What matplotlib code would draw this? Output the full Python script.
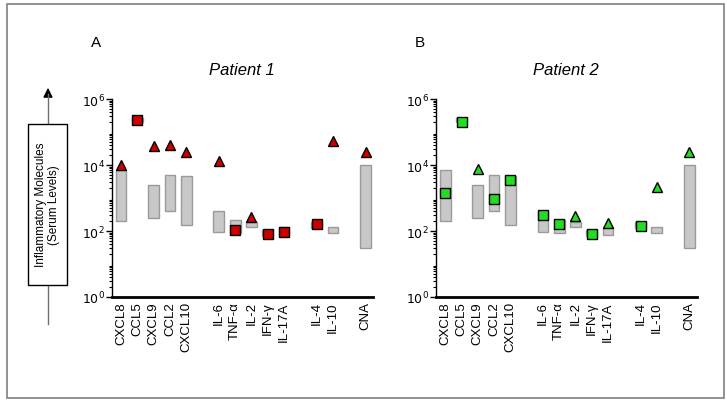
import matplotlib
matplotlib.use('Agg')
import matplotlib.pyplot as plt
from matplotlib.patches import Rectangle, FancyArrowPatch
from matplotlib.lines import Line2D
import numpy as np

plt.rcParams['font.family'] = ['Liberation Sans', 'DejaVu Sans']

# categories and their slots on the x axis (gaps between groups)
labels = ['CXCL8', 'CCL5', 'CXCL9', 'CCL2', 'CXCL10',
          'IL-6', 'TNF-α', 'IL-2', 'IFN-γ', 'IL-17A',
          'IL-4', 'IL-10', 'CNA']
xpos = [0, 1, 2, 3, 4, 6, 7, 8, 9, 10, 12, 13, 15]

# normal ranges (grey boxes)
range_low = [200, 2.0e5, 250, 400, 150, 95, 85, 130, 72, 77, 125, 85, 30]
range_high = [7000, 2.6e5, 2500, 5000, 4500, 400, 220, 190, 105, 135, 190, 135, 10000]

# patient values, marker shape ('^' above range, 's' within)
p1_vals = [10000, 2.3e5, 37000, 40000, 25000, 13500, 110, 260, 83, 95, 165, 52000, 24000]
p1_mark = ['^', 's', '^', '^', '^', '^', 's', '^', 's', 's', 's', '^', '^']
p2_vals = [1400, 2.0e5, 7500, 930, 3600, 310, 165, 280, 80, 180, 140, 2200, 25000]
p2_mark = ['s', 's', '^', 's', 's', 's', 's', '^', 's', '^', 's', '^', '^']

fig = plt.figure(figsize=(7.27, 4.02), dpi=100)

# outer frame
fig.patches.append(Rectangle((7 / 727, 3 / 402), 717 / 727, 394 / 402, transform=fig.transFigure,
                             fill=False, edgecolor='#808080', lw=1.2))


def draw_panel(ax, vals, marks, color, title, letter):
    for x, lo, hi in zip(xpos, range_low, range_high):
        ax.add_patch(Rectangle((x - 0.33, lo), 0.66, hi - lo, facecolor='#c8c8c8',
                               edgecolor='#9a9a9a', lw=1, zorder=2))
    for x, v, m in zip(xpos, vals, marks):
        ms = 7.5 if m == '^' else 6.5
        ax.plot(x, v, marker=m, ms=ms, color=color, mec='black', mew=1, zorder=3)
    ax.set_yscale('log')
    ax.set_ylim(1, 1e6)
    ax.set_xlim(-0.57, 15.45)
    ax.set_yticks([1, 1e2, 1e4, 1e6])
    ax.set_yticklabels(['$10^0$', '$10^2$', '$10^4$', '$10^6$'], fontsize=9)
    ax.yaxis.set_minor_locator(matplotlib.ticker.LogLocator(base=10, subs=np.arange(2, 10), numticks=20))
    ax.yaxis.set_minor_formatter(matplotlib.ticker.NullFormatter())
    ax.tick_params(axis='y', which='major', length=4, width=1, pad=1)
    ax.tick_params(axis='y', which='minor', length=2, width=0.8)
    ax.set_xticks(xpos)
    ax.set_xticklabels(labels, rotation=90, fontsize=9.5)
    ax.tick_params(axis='x', length=0, pad=3)
    ax.spines['top'].set_visible(False)
    ax.spines['right'].set_visible(False)
    ax.spines['bottom'].set_linewidth(2)
    ax.spines['left'].set_linewidth(1)
    ax.set_title(title, fontsize=12, style='italic', pad=18)
    ax.text(-0.08, 1.29, letter, transform=ax.transAxes, fontsize=11, ha='left', va='center')


axA = fig.add_axes([111.7 / 727, 104 / 402, 261.3 / 727, 198 / 402])
axB = fig.add_axes([436 / 727, 104 / 402, 260.7 / 727, 198 / 402])
draw_panel(axA, p1_vals, p1_mark, '#cc0000', 'Patient 1', 'A')
draw_panel(axB, p2_vals, p2_mark, '#22dd22', 'Patient 2', 'B')

# left-side arrow: grey shaft, black head, labelled box on top
fig.add_artist(Line2D([48 / 727, 48 / 727], [(402 - 325) / 402, (402 - 95) / 402],
                      transform=fig.transFigure, color='#707070', lw=1))
fig.add_artist(FancyArrowPatch((48 / 727, (402 - 98) / 402), (48 / 727, (402 - 86) / 402),
                               transform=fig.transFigure, arrowstyle='-|>', mutation_scale=14,
                               color='black', lw=1))
fig.patches.append(Rectangle((28 / 727, (402 - 286) / 402), 39 / 727, 161 / 402, transform=fig.transFigure,
                             facecolor='white', edgecolor='black', lw=1, zorder=5))
fig.text(47.5 / 727, (402 - 205) / 402, 'Inflammatory Molecules\n(Serum Levels)', rotation=90,
         ha='center', va='center', fontsize=8.5, zorder=6, linespacing=1.1)

fig.savefig('out.png', dpi=100)
